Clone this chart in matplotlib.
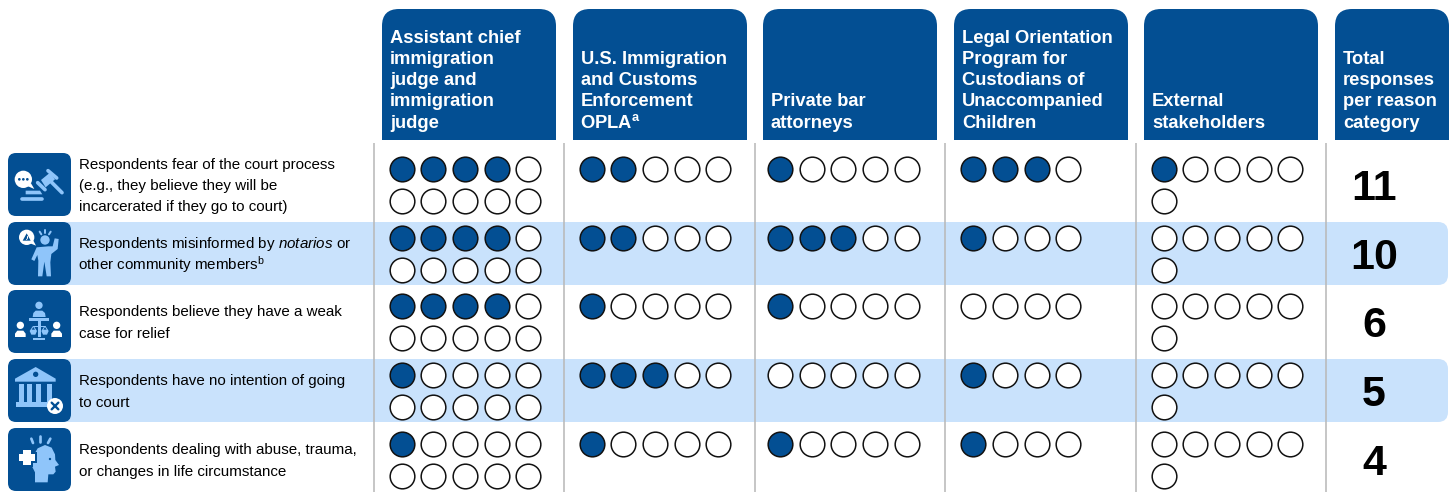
import matplotlib
matplotlib.use('Agg')
import matplotlib.pyplot as plt
from matplotlib.patches import Circle, FancyBboxPatch, Polygon, Rectangle

plt.rcParams['font.family'] = ['Liberation Sans', 'DejaVu Sans']
plt.rcParams['mathtext.fontset'] = 'custom'
plt.rcParams['mathtext.rm'] = 'Liberation Sans'
plt.rcParams['mathtext.it'] = 'Liberation Sans:italic'
plt.rcParams['mathtext.bf'] = 'Liberation Sans:bold'

# заголовки столбцов
columns = [
    ['Assistant chief', 'immigration', 'judge and', 'immigration', 'judge'],
    ['U.S. Immigration', 'and Customs', 'Enforcement', 'OPLA$^{\\mathbf{a}}$'],
    ['Private bar', 'attorneys'],
    ['Legal Orientation', 'Program for', 'Custodians of', 'Unaccompanied', 'Children'],
    ['External', 'stakeholders'],
]
total_header = ['Total', 'responses', 'per reason', 'category']

reasons = [
    ['Respondents fear of the court process', '(e.g., they believe they will be',
     'incarcerated if they go to court)'],
    ['Respondents misinformed by $\\mathit{notarios}$ or', 'other community members$^{\\mathrm{b}}$'],
    ['Respondents believe they have a weak', 'case for relief'],
    ['Respondents have no intention of going', 'to court'],
    ['Respondents dealing with abuse, trauma,', 'or changes in life circumstance'],
]

# сколько всего кружков в столбце
respondents = [10, 5, 5, 4, 6]
# закрашенные кружки: строка - причина, столбец - группа
filled = [
    [4, 2, 1, 3, 1],
    [4, 2, 3, 1, 0],
    [4, 1, 1, 0, 0],
    [1, 3, 0, 1, 0],
    [1, 1, 1, 1, 0],
]
totals = [11, 10, 6, 5, 4]

BLUE = '#034f93'
LIGHT = '#c9e2fc'
ICON = '#8fc5fa'
GRAY = '#b9b9b9'

fig = plt.figure(figsize=(14.5, 4.92), dpi=100)
ax = fig.add_axes([0, 0, 1, 1])
ax.set_xlim(0, 1450)
ax.set_ylim(492, 0)
ax.axis('off')

col_left = [382, 573, 763, 954, 1144]
col_first = [401.7, 591.7, 780, 973.3, 1163.7]
row_top = [153, 222, 290, 359, 428]
row_h = 63


def rbox(x, y, w, h, r, color, z=1):
    ax.add_patch(FancyBboxPatch((x + r, y + r), w - 2 * r, h - 2 * r,
                                boxstyle='round,pad=%f,rounding_size=%f' % (r, r),
                                fc=color, ec='none', zorder=z))


def header(x, w, lines):
    rbox(x, 9, w, 80, 17, BLUE)
    ax.add_patch(Rectangle((x, 40), w, 100, fc=BLUE, ec='none', zorder=1))
    base = 127.5 - 21.2 * (len(lines) - 1)
    for i, s in enumerate(lines):
        dx = 7 if '$' in s else 8
        ax.text(x + dx, base + 21.2 * i, s, color='white', fontsize=13.2, fontweight='bold',
                va='baseline', ha='left', zorder=3)


# значки рисуются в координатах увеличенного кадра 3x (начало: x=5, y=top-3)
def X(v):
    return 5 + v / 3


def Y(v, top):
    return top - 3 + v / 3


def poly(pts, top, color=ICON, z=4):
    ax.add_patch(Polygon([(X(a), Y(b, top)) for a, b in pts], fc=color, ec='none', zorder=z))


def disc(a, b, r, top, color=ICON, z=4):
    ax.add_patch(Circle((X(a), Y(b, top)), r / 3, fc=color, ec='none', zorder=z))


def stroke(a, b, c, d, width, top, color=ICON, z=4):
    ax.plot([X(a), X(c)], [Y(b, top), Y(d, top)], color=color, lw=width * 0.24,
            solid_capstyle='round', zorder=z)


def icon_gavel(t):
    poly([(108, 90), (135, 68), (150, 88), (122, 112)], t)
    stroke(129, 62, 155, 84, 11, t)
    stroke(98, 98, 120, 119, 11, t)
    stroke(140, 97, 171, 128, 11, t)
    poly([(62, 122), (105, 122), (112, 133), (62, 133)], t)
    stroke(52, 146, 112, 146, 11, t)
    disc(55, 88, 26, t, 'white')
    poly([(60, 105), (78, 100), (88, 117)], t, 'white')
    for a in (43, 55, 67):
        disc(a, 88, 4, t, BLUE, 5)


def icon_person(t):
    disc(120, 63, 14, t)
    stroke(104, 38, 109, 46, 6, t)
    stroke(120, 32, 120, 42, 6, t)
    stroke(137, 38, 132, 46, 6, t)
    poly([(95, 85), (130, 82), (143, 82), (149, 58), (161, 60), (158, 90), (139, 105), (136, 130),
          (138, 172), (125, 172), (118, 128), (112, 172), (99, 172), (100, 125), (97, 108),
          (88, 126), (79, 121)], t)
    disc(65, 55, 23, t, 'white')
    poly([(68, 70), (85, 65), (93, 80)], t, 'white')
    poly([(65, 43), (53, 65), (77, 65)], t, BLUE, 5)
    stroke(65, 51, 65, 57, 3, t, 'white', 6)
    disc(65, 61, 1.8, t, 'white', 6)


def icon_scale(t):
    disc(102, 55, 11, t)
    poly([(83, 90), (85, 78), (92, 71), (112, 71), (120, 78), (122, 90)], t)
    poly([(72, 93), (133, 93), (133, 103), (72, 103)], t)
    poly([(98, 103), (107, 103), (107, 150), (98, 150)], t)
    poly([(84, 152), (120, 152), (120, 160), (84, 160)], t)
    stroke(84, 118, 121, 118, 3, t)
    for a in (85, 120):
        poly([(a - 11, 132), (a + 11, 132), (a + 6, 143), (a - 6, 143)], t)
        poly([(a - 2, 118), (a + 2, 118), (a + 11, 132), (a - 11, 132)], t)
        poly([(a - 5, 128), (a + 5, 128), (a, 120)], t, BLUE, 5)
    for a in (46, 155):
        disc(a, 115, 11, t, 'white')
        poly([(a - 16, 150), (a - 16, 140), (a - 9, 131), (a + 9, 131), (a + 16, 140), (a + 16, 150)], t, 'white')


def icon_bank(t):
    poly([(30, 68), (92, 33), (152, 68), (152, 77), (30, 77)], t)
    disc(92, 55, 8, t, BLUE, 5)
    for a in (43, 67, 92, 125):
        poly([(a, 85), (a + 15, 85), (a + 15, 138), (a, 138)], t)
    poly([(32, 138), (135, 138), (135, 152), (32, 152)], t)
    disc(150, 150, 24, t, 'white', 5)
    stroke(140, 140, 160, 160, 7, t, BLUE, 6)
    stroke(140, 160, 160, 140, 7, t, BLUE, 6)


def icon_head(t):
    poly([(85, 92), (98, 70), (120, 60), (140, 68), (150, 88), (151, 105), (162, 120), (150, 125),
          (152, 140), (145, 148), (130, 148), (128, 172), (90, 172), (90, 142), (80, 122)], t)
    disc(135, 102, 3.5, t, BLUE, 5)
    poly([(49, 69), (83, 69), (83, 82), (96, 82), (96, 114), (83, 114), (83, 126), (49, 126)], t, BLUE, 5)
    poly([(55, 75), (77, 75), (77, 88), (90, 88), (90, 108), (77, 108), (77, 120), (55, 120),
          (55, 108), (43, 108), (43, 88), (55, 88)], t, 'white', 6)
    stroke(79, 41, 84, 54, 8, t)
    stroke(105, 34, 105, 51, 8, t)
    stroke(136, 41, 129, 54, 8, t)


icons = [icon_gavel, icon_person, icon_scale, icon_bank, icon_head]

# полосы под чётными строками
for r in (1, 3):
    rbox(30, row_top[r], 1418, row_h, 10, LIGHT, z=0)

for x, lines in zip(col_left, columns):
    header(x, 174, lines)
header(1335, 114, total_header)

for x in (374.5, 564.5, 755, 945.5, 1136, 1326.5):
    ax.plot([x, x], [143, 492], color=GRAY, lw=1.15, zorder=1, solid_capstyle='butt')

for r, lines in enumerate(reasons):
    top = row_top[r]
    rbox(8, top, 63, row_h, 8, BLUE, z=2)
    icons[r](top)
    base = top + 37 - 10.6 * (len(lines) - 1)
    for i, s in enumerate(lines):
        tx = 78 if '$' in s else 79
        ax.text(tx, base + 21.2 * i, s, fontsize=10.9, color='black', va='baseline', zorder=3)
    for c, n in enumerate(respondents):
        for k in range(n):
            px = col_first[c] + 31.7 * (k % 5)
            py = top + 15.8 + 31.7 * (k // 5)
            ax.scatter(px, py, s=315, fc=BLUE if k < filled[r][c] else 'white',
                       ec='#111111', lw=1.1, zorder=4)
    ax.text(1374, top + 36, str(totals[r]), fontsize=31, fontweight='bold',
            ha='center', va='center', color='black', zorder=3)

fig.savefig('out.png', dpi=100)
